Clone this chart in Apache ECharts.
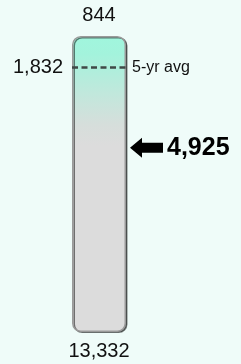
<!DOCTYPE html>
<html>
<head>
<meta charset="utf-8">
<script src="https://cdn.jsdelivr.net/npm/echarts@6/dist/echarts.min.js"></script>
<style>
  html, body { margin: 0; padding: 0; background: #effcf9; }
  #chart { width: 241px; height: 364px; }
</style>
</head>
<body>
<div id="chart"></div>
<script>
// gauge range, top (low) to bottom (high)
const rangeMin = 844;
const rangeMax = 13332;
// 5-yr average marker
const avgValue = 1832;
const avgLabel = '5-yr avg';
// current value pointed at by the arrow
const currentValue = 4925;
const categories = ['count'];

// the original graphic is not linear, roughly a power of 0.8
const pw = v => Math.pow(v, 0.8);
const fmt = v => String(v).replace(/\B(?=(\d{3})+(?!\d))/g, ',');

const font = "'Liberation Sans', Arial, sans-serif";

const chart = echarts.init(document.getElementById('chart'));

const option = {
  backgroundColor: '#effcf9',
  animation: false,
  grid: { left: 72, right: 115, top: 36, bottom: 32 },
  xAxis: { type: 'category', data: categories, show: false },
  yAxis: {
    type: 'value',
    inverse: true,
    min: pw(rangeMin),
    max: pw(rangeMax),
    show: false
  },
  series: [
    {
      // invisible base so the gauge starts at rangeMin
      type: 'bar',
      stack: 'g',
      barWidth: 54,
      data: [pw(rangeMin)],
      itemStyle: { color: 'transparent' },
      silent: true
    },
    {
      type: 'bar',
      stack: 'g',
      barWidth: 53,
      data: [pw(rangeMax) - pw(rangeMin)],
      itemStyle: {
        borderRadius: 8,
        borderColor: '#9a9a9a',
        borderWidth: 1.5,
        shadowColor: 'rgba(0,0,0,0.5)',
        shadowOffsetX: 1.5,
        shadowOffsetY: 1,
        shadowBlur: 0,
        color: new echarts.graphic.LinearGradient(0, 0, 0, 1, [
          { offset: 0, color: '#a0f6dd' },
          { offset: 0.06, color: '#a3f3dc' },
          { offset: 0.19, color: '#c0e8dc' },
          { offset: 0.3, color: '#d6dedb' },
          { offset: 0.37, color: '#dcdcdc' },
          { offset: 1, color: '#dcdcdc' }
        ])
      },
      markLine: {
        silent: true,
        symbol: 'none',
        data: [
          {
            yAxis: pw(avgValue),
            lineStyle: { color: '#3f4846', type: [6, 3.5], width: 2.6 },
            label: {
              position: 'start', distance: 9, formatter: fmt(avgValue),
              fontSize: 20, color: '#111', fontFamily: font
            }
          },
          {
            yAxis: pw(avgValue),
            lineStyle: { color: 'transparent', width: 0 },
            label: {
              position: 'end', distance: 6, formatter: avgLabel,
              fontSize: 16, color: '#111', fontFamily: font
            }
          }
        ]
      },
      markPoint: {
        silent: true,
        data: [
          {
            coord: [0, pw(currentValue)],
            symbol: 'path://M0,10 L12,0 L12,5 L33,5 L33,15 L12,15 L12,20 Z',
            symbolSize: [33, 20],
            symbolOffset: [47.5, -1.5],
            itemStyle: { color: '#000' },
            label: {
              show: true, position: 'right', distance: 4,
              formatter: fmt(currentValue),
              fontSize: 25, fontWeight: 'bold', color: '#000', fontFamily: font
            }
          },
          {
            coord: [0, pw(rangeMin)],
            symbol: 'circle', symbolSize: 1,
            itemStyle: { color: 'transparent' },
            label: {
              show: true, position: 'top', distance: 10,
              formatter: fmt(rangeMin),
              fontSize: 20, color: '#111', fontFamily: font
            }
          },
          {
            coord: [0, pw(rangeMax)],
            symbol: 'circle', symbolSize: 1,
            itemStyle: { color: 'transparent' },
            label: {
              show: true, position: 'bottom', distance: 9,
              formatter: fmt(rangeMax),
              fontSize: 20, color: '#111', fontFamily: font
            }
          }
        ]
      }
    }
  ]
};

chart.setOption(option);
</script>
</body>
</html>
